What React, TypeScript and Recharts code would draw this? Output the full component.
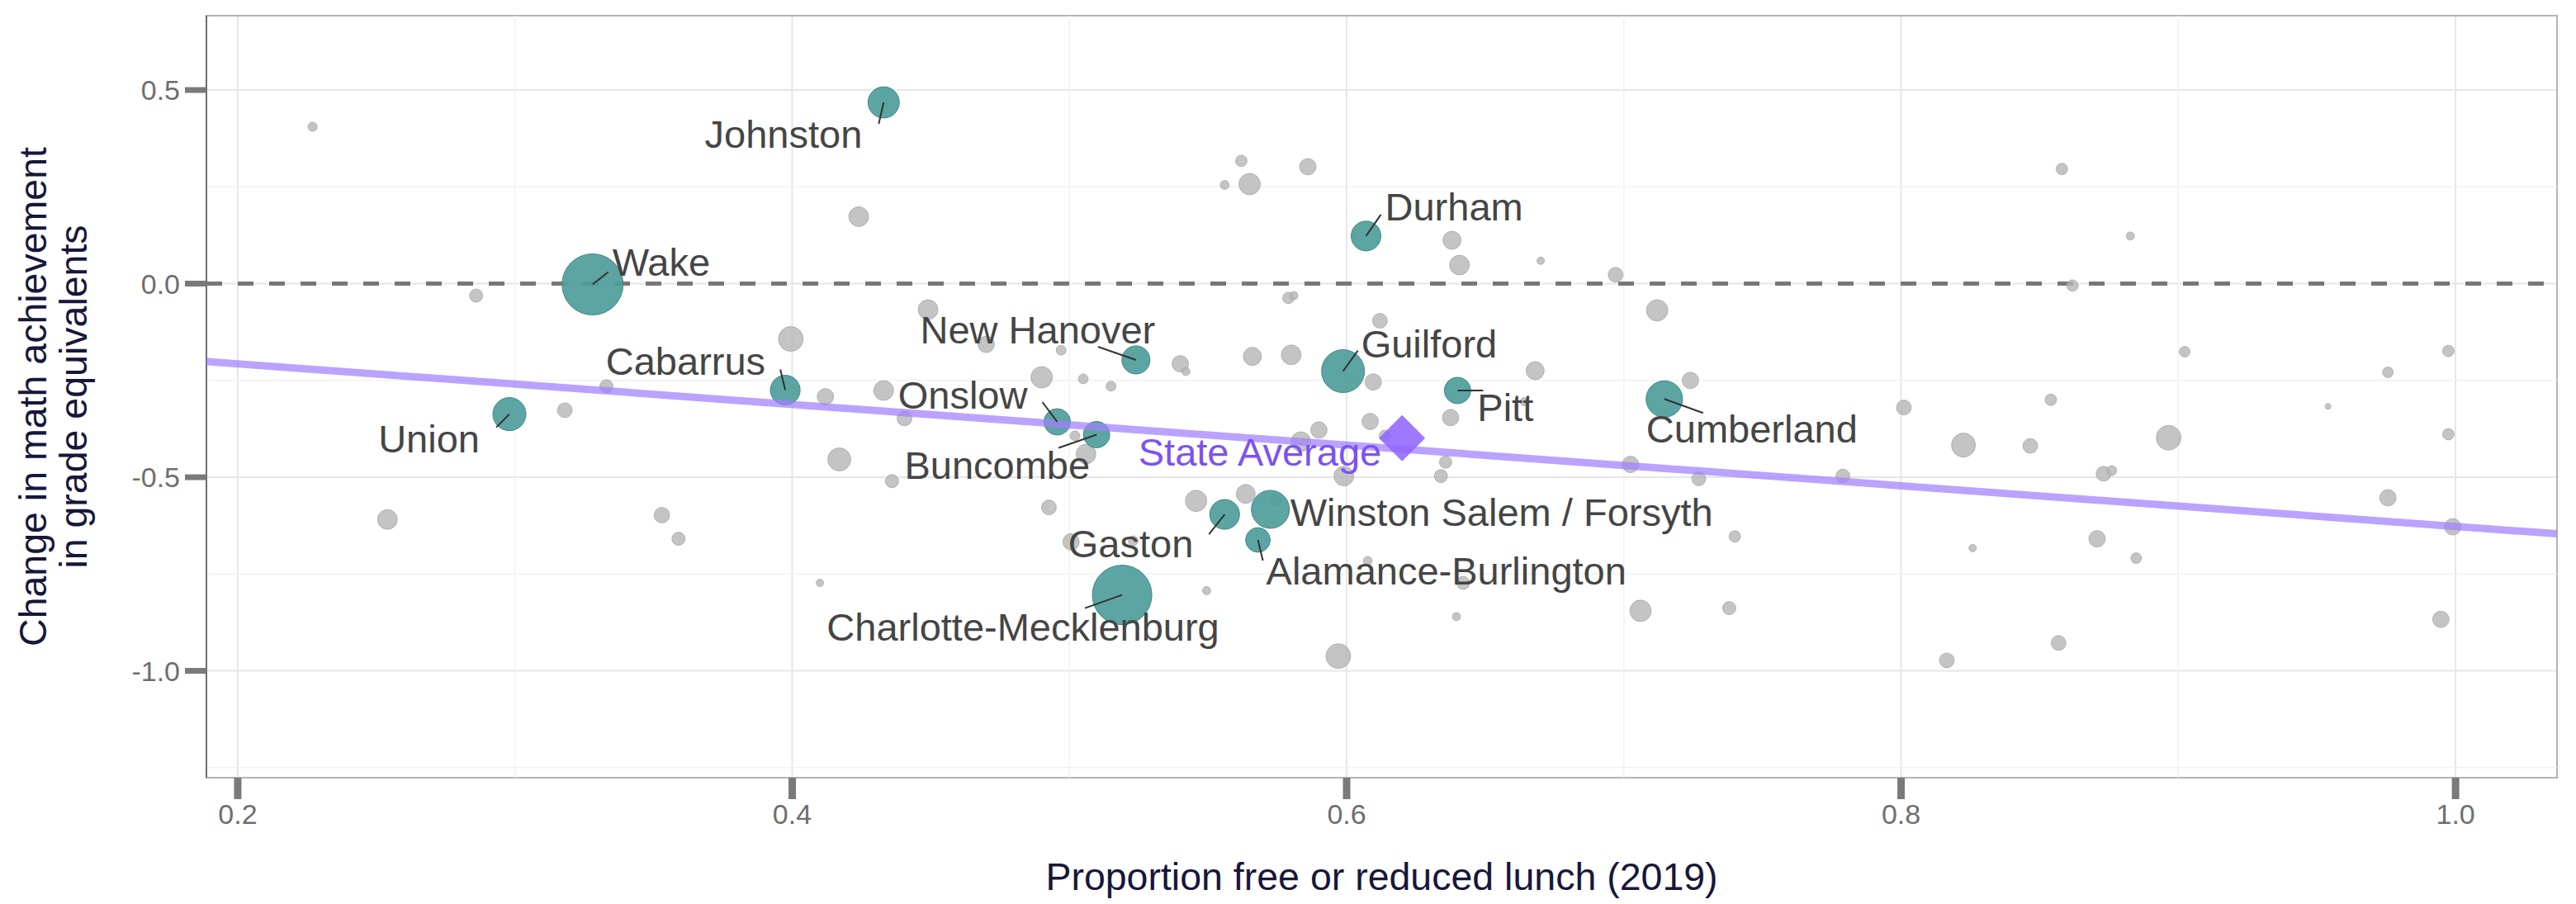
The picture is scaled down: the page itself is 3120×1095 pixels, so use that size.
import React from "react";
import {
  ScatterChart,
  Scatter,
  XAxis,
  YAxis,
  ZAxis,
  CartesianGrid,
  ReferenceLine,
  ReferenceArea,
  Label,
} from "recharts";

const FONT = "'Liberation Sans', Arial, Helvetica, sans-serif";

// axes
const xDomain = [0.1887, 1.0366];
const yDomain = [-1.276, 0.692];
const xTicks = [0.2, 0.4, 0.6, 0.8, 1.0];
const yTicks = [-1.0, -0.5, 0.0, 0.5];
const xMinorTicks = [0.3, 0.5, 0.7, 0.9];
const yMinorTicks = [-1.25, -0.75, -0.25, 0.25];

// highlighted (largest) districts
const districtNames = [
  "Johnston", "Wake", "Cabarrus", "Union", "New Hanover", "Onslow", "Buncombe", "Durham",
  "Guilford", "Pitt", "Cumberland", "Winston Salem / Forsyth", "Gaston", "Alamance-Burlington",
  "Charlotte-Mecklenburg",
];
const districtFrl = [0.433, 0.328, 0.3975, 0.298, 0.524, 0.4956, 0.5098, 0.607, 0.5987, 0.64, 0.7146, 0.5725, 0.556, 0.568, 0.519];
const districtChange = [0.468, -0.002, -0.275, -0.337, -0.197, -0.357, -0.39, 0.123, -0.226, -0.276, -0.298, -0.583, -0.596, -0.662, -0.804];
const districtEnroll = [42, 160, 38, 47, 34, 30, 30, 38, 79, 30, 57, 62, 38, 26, 152];

// all other districts
const otherFrl = [
  0.227, 0.286, 0.333, 0.318, 0.254, 0.353, 0.359, 0.562, 0.556, 0.565, 0.586, 0.424, 0.579, 0.581,
  0.449, 0.3995, 0.47, 0.497, 0.54, 0.542, 0.566, 0.58, 0.49, 0.505, 0.515, 0.412, 0.433, 0.4405,
  0.502, 0.506, 0.5835, 0.417, 0.436, 0.4926, 0.5457, 0.5636, 0.5006, 0.523, 0.41, 0.5495, 0.638,
  0.6407, 0.67, 0.697, 0.612, 0.712, 0.668, 0.6096, 0.724, 0.801, 0.6375, 0.6085, 0.59, 0.6138,
  0.664, 0.6357, 0.599, 0.634, 0.7024, 0.727, 0.779, 0.74, 0.6076, 0.642, 0.6396, 0.706, 0.738,
  0.597, 0.8165, 0.858, 0.8827, 0.8618, 0.9023, 0.9974, 0.9756, 0.954, 0.854, 0.8225, 0.8466,
  0.8965, 0.9974, 0.873, 0.876, 0.9756, 0.999, 0.8258, 0.8707, 0.8848, 0.9947, 0.8568, 0.5745,
];
const otherChange = [
  0.405, -0.031, -0.265, -0.327, -0.609, -0.598, -0.659, 0.317, 0.255, 0.257, 0.302, 0.173, -0.037, -0.031,
  -0.067, -0.143, -0.157, -0.172, -0.207, -0.227, -0.188, -0.184, -0.242, -0.246, -0.265, -0.292, -0.276, -0.348,
  -0.393, -0.44, -0.408, -0.454, -0.51, -0.578, -0.561, -0.543, -0.667, -0.664, -0.773, -0.793, 0.112,
  0.048, 0.059, 0.023, -0.096, -0.069, -0.225, -0.254, -0.25, -0.32, -0.346, -0.356, -0.378, -0.393,
  -0.305, -0.461, -0.497, -0.497, -0.467, -0.504, -0.497, -0.653, -0.716, -0.773, -0.86, -0.845, -0.838,
  -0.962, -0.973, 0.296, 0.123, -0.005, -0.176, -0.174, -0.229, -0.317, -0.3, -0.417, -0.419,
  -0.398, -0.389, -0.491, -0.483, -0.553, -0.628, -0.683, -0.659, -0.709, -0.867, -0.928, -0.561,
];
const otherEnroll = [
  3.7, 7.5, 7.5, 9.5, 16.8, 10.5, 7.5, 5.7, 3.5, 19.8, 11.7, 16.8, 5.7, 2.9,
  16.8, 26.3, 11.7, 4.2, 11.7, 2.9, 14.1, 16.8, 19.8, 4.2, 4.2, 11.7, 16.8, 9.5,
  4.2, 16.8, 16.8, 22.9, 7.5, 9.5, 19.8, 15.5, 11.7, 4.2, 2.4, 2.9, 14.1,
  16.8, 2.4, 9.5, 9.5, 19.8, 14.1, 11.7, 11.7, 9.5, 11.7, 11.7, 11.7, 5.7,
  2.9, 6.6, 16.8, 7.5, 11.7, 8.4, 8.4, 5.7, 3.5, 7.5, 2.9, 19.8, 7.5,
  26.3, 9.5, 5.7, 2.9, 5.7, 4.9, 5.7, 4.9, 1.4, 5.7, 24.6, 9.5,
  26.3, 5.7, 9.5, 4.2, 11.7, 11.7, 2.4, 11.7, 4.9, 11.7, 9.5, 5.7,
];

const stateAvgFrl = 0.62;
const stateAvgChange = -0.399;

// state-wide linear fit
const fitIntercept = -0.102;
const fitSlope = -0.525;

const districts = districtNames.map((name, i) => ({ name, x: districtFrl[i], y: districtChange[i], n: districtEnroll[i] }));
const others = otherFrl.map((x, i) => ({ x, y: otherChange[i], n: otherEnroll[i] }));
const stateAvg = [{ name: "State Average", x: stateAvgFrl, y: stateAvgChange, n: 0 }];
const fitLine = xDomain.map((x) => ({ x, y: fitIntercept + fitSlope * x, n: 0 }));

// label placement (px offsets from point centre), like ggrepel
const labelLayout = {
  "Johnston": { dx: -26, dy: 55, anchor: "end", lx: -6, ly: 26 },
  "Wake": { dx: 24, dy: -10, anchor: "start", lx: 19, ly: -15 },
  "Cabarrus": { dx: -24, dy: -19, anchor: "end", lx: -6, ly: -25 },
  "Union": { dx: -36, dy: 46, anchor: "end", lx: -16, ly: 16 },
  "New Hanover": { dx: -119, dy: -20, anchor: "middle", lx: -46, ly: -16 },
  "Onslow": { dx: -36, dy: -16, anchor: "end", lx: -18, ly: -24 },
  "Buncombe": { dx: -8, dy: 54, anchor: "end", lx: -46, ly: 16 },
  "Durham": { dx: 23, dy: -19, anchor: "start", lx: 18, ly: -26 },
  "Guilford": { dx: 22, dy: -17, anchor: "start", lx: 18, ly: -25 },
  "Pitt": { dx: 24, dy: 37, anchor: "start", lx: 31, ly: 0 },
  "Cumberland": { dx: -22, dy: 53, anchor: "start", lx: 47, ly: 17 },
  "Winston Salem / Forsyth": { dx: 24, dy: 20, anchor: "start" },
  "Gaston": { dx: -38, dy: 52, anchor: "end", lx: -19, ly: 24 },
  "Alamance-Burlington": { dx: 10, dy: 54, anchor: "start", lx: 6, ly: 25 },
  "Charlotte-Mecklenburg": { dx: -120, dy: 55, anchor: "middle", lx: -45, ly: 16 },
  "State Average": { dx: -25, dy: 33, anchor: "end", color: "#7b52f5" },
};

const radius = (size) => Math.sqrt(Math.max(size || 0, 0) / Math.PI);

const GrayDot = (p) => (
  <circle cx={p.cx} cy={p.cy} r={radius(p.size)} fill="#b5b5b5" fillOpacity={0.8} stroke="#9a9a9a" strokeOpacity={0.6} strokeWidth={1} />
);

const TealDot = (p) => (
  <circle cx={p.cx} cy={p.cy} r={radius(p.size)} fill="#4f9d9b" fillOpacity={0.92} stroke="#3f8886" strokeWidth={1} />
);

const Diamond = (p) => {
  const h = 28;
  return (
    <polygon
      points={`${p.cx},${p.cy - h} ${p.cx + h},${p.cy} ${p.cx},${p.cy + h} ${p.cx - h},${p.cy}`}
      fill="#8f68ff"
      fillOpacity={0.88}
    />
  );
};

const Hidden = () => <g />;

const DistrictLabel = (p) => {
  const l = labelLayout[p.payload.name];
  if (!l) return <g />;
  return (
    <g>
      {l.lx !== undefined && (
        <line x1={p.cx} y1={p.cy} x2={p.cx + l.lx} y2={p.cy + l.ly} stroke="#333" strokeWidth={2} />
      )}
      <text
        x={p.cx + l.dx}
        y={p.cy + l.dy}
        textAnchor={l.anchor}
        fontFamily={FONT}
        fontSize={47}
        fill={l.color || "#454545"}
      >
        {p.payload.name}
      </text>
    </g>
  );
};

const XTitle = ({ viewBox }) => (
  <text x={viewBox.x + viewBox.width / 2} y={viewBox.y + 136} textAnchor="middle" fontFamily={FONT} fontSize={46.5} fill="#17173a">
    Proportion free or reduced lunch (2019)
  </text>
);

const YTitle = ({ viewBox }) => {
  const cy = viewBox.y + viewBox.height / 2;
  const x1 = viewBox.x + 56;
  const x2 = viewBox.x + 104.5;
  return (
    <g fontFamily={FONT} fontSize={46.5} fill="#17173a">
      <text x={x1} y={cy} textAnchor="middle" transform={`rotate(-90, ${x1}, ${cy})`}>
        Change in math achievement
      </text>
      <text x={x2} y={cy} textAnchor="middle" transform={`rotate(-90, ${x2}, ${cy})`}>
        in grade equivalents
      </text>
    </g>
  );
};

export default function App() {
  return (
    <div>
      <style>{"body{margin:0;background:#fff}"}</style>
      <ScatterChart width={3120} height={1095} margin={{ top: 19, right: 23, bottom: 0, left: 0 }}>
        <CartesianGrid stroke="#e6e6e6" strokeWidth={2} />
        <XAxis
          type="number"
          dataKey="x"
          domain={xDomain}
          ticks={xTicks}
          interval={0}
          allowDataOverflow
          tickFormatter={(v) => v.toFixed(1)}
          height={153}
          tickSize={26}
          tickMargin={6}
          axisLine={false}
          tickLine={{ stroke: "#7a7a7a", strokeWidth: 9 }}
          tick={{ fill: "#6e6e6e", fontSize: 34, fontFamily: FONT }}
        >
          <Label content={XTitle} />
        </XAxis>
        <YAxis
          type="number"
          dataKey="y"
          domain={yDomain}
          ticks={yTicks}
          interval={0}
          allowDataOverflow
          tickFormatter={(v) => v.toFixed(1)}
          width={250}
          tickSize={26}
          tickMargin={6}
          axisLine={false}
          tickLine={{ stroke: "#7a7a7a", strokeWidth: 7 }}
          tick={{ fill: "#6e6e6e", fontSize: 34, fontFamily: FONT }}
        >
          <Label content={YTitle} />
        </YAxis>
        <ZAxis type="number" dataKey="n" domain={[0, 160]} range={[0, Math.PI * 37 * 37]} />
        {xMinorTicks.map((v) => (
          <ReferenceLine key={`mx${v}`} x={v} stroke="#f1f1f1" strokeWidth={1.5} />
        ))}
        {yMinorTicks.map((v) => (
          <ReferenceLine key={`my${v}`} y={v} stroke="#f1f1f1" strokeWidth={1.5} />
        ))}
        <ReferenceArea
          x1={xDomain[0]}
          x2={xDomain[1]}
          y1={yDomain[0]}
          y2={yDomain[1]}
          fill="none"
          fillOpacity={0}
          stroke="#b3b3b3"
          strokeWidth={2}
          ifOverflow="visible"
        />
        <ReferenceLine x={xDomain[0]} stroke="#555" strokeWidth={1.5} ifOverflow="visible" />
        <Scatter data={others} shape={GrayDot} isAnimationActive={false} />
        <Scatter data={districts} shape={TealDot} isAnimationActive={false} />
        <ReferenceLine y={0} stroke="#777" strokeWidth={5} strokeDasharray="19 19" />
        <Scatter
          data={fitLine}
          shape={Hidden}
          line={{ stroke: "#a080ff", strokeOpacity: 0.72, strokeWidth: 9 }}
          isAnimationActive={false}
        />
        <Scatter data={stateAvg} shape={Diamond} isAnimationActive={false} />
        <Scatter data={[...districts, ...stateAvg]} shape={DistrictLabel} isAnimationActive={false} />
      </ScatterChart>
    </div>
  );
}
